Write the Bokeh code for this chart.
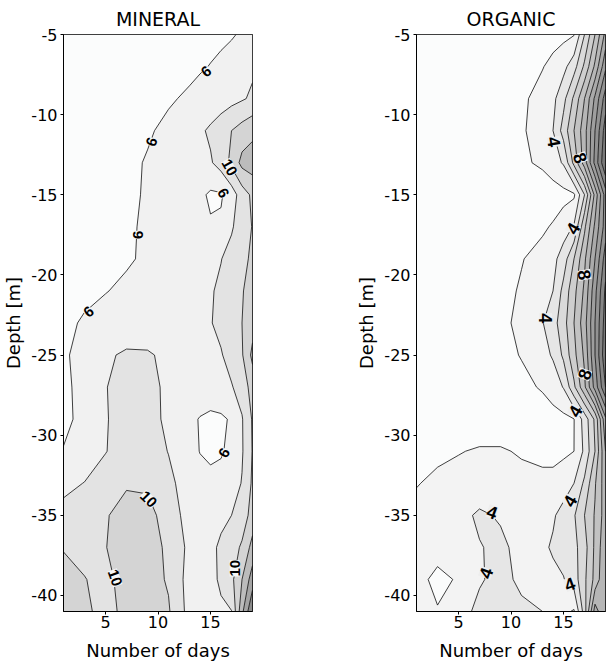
import numpy as np
from bokeh.plotting import figure
from bokeh.layouts import row
from bokeh.models import Range1d, FixedTicker, ColumnDataSource, PrintfTickFormatter
from bokeh.embed import file_html
from bokeh.resources import INLINE

# ---------------- data ----------------
days = [1, 3, 5, 7, 9, 11, 13, 14, 15, 16, 17, 18, 19]
depths = [-5, -7, -9, -11, -13, -15, -17, -19, -21, -23, -25, -27, -29,
          -31, -33, -35, -37, -39, -41]

mineral = [
    [5.0, 5.0, 5.0, 5.1, 5.2, 5.3, 5.4, 5.5, 5.6, 5.7, 5.85, 6.2, 6.8],
    [5.0, 5.0, 5.1, 5.2, 5.3, 5.5, 5.7, 5.85, 6.05, 6.3, 6.7, 7.2, 7.7],
    [5.1, 5.1, 5.2, 5.4, 5.6, 5.85, 6.2, 6.5, 6.8, 7.1, 7.4, 7.8, 8.3],
    [5.2, 5.3, 5.4, 5.6, 5.85, 6.3, 7.2, 7.7, 8.3, 9.0, 10.0, 10.8, 11.5],
    [5.3, 5.4, 5.5, 5.7, 6.1, 6.6, 7.0, 7.4, 7.8, 8.8, 10.5, 12.6, 13.0],
    [5.4, 5.5, 5.6, 5.8, 6.1, 6.4, 6.5, 6.4, 5.7, 5.8, 7.0, 9.0, 10.4],
    [5.4, 5.5, 5.65, 5.85, 6.15, 6.5, 6.7, 6.6, 6.2, 6.3, 7.8, 8.9, 10.1],
    [5.3, 5.45, 5.6, 5.85, 6.2, 6.6, 6.9, 7.1, 7.5, 7.95, 8.6, 9.4, 10.4],
    [5.3, 5.6, 5.95, 6.25, 6.55, 6.9, 7.3, 7.6, 7.85, 8.3, 9.0, 9.9, 10.6],
    [5.6, 6.2, 6.5, 6.7, 6.9, 7.1, 7.4, 7.6, 7.9, 8.5, 9.2, 10.0, 11.2],
    [5.8, 6.5, 7.7, 8.3, 8.2, 7.6, 7.4, 7.6, 7.8, 7.85, 8.8, 9.8, 12.5],
    [5.6, 6.6, 7.95, 8.5, 8.6, 7.6, 7.3, 7.1, 7.1, 7.4, 7.85, 8.9, 10.8],
    [5.5, 6.6, 7.9, 8.6, 8.7, 7.6, 6.4, 5.9, 5.6, 5.7, 6.2, 7.85, 10.2],
    [6.1, 6.9, 7.95, 8.6, 8.8, 7.95, 6.6, 5.95, 5.7, 5.85, 6.4, 7.8, 10.1],
    [7.5, 8.05, 8.6, 9.8, 9.7, 8.4, 7.2, 6.6, 6.4, 6.5, 7.1, 8.1, 10.3],
    [8.6, 9.2, 9.85, 10.7, 10.6, 9.2, 7.1, 7.2, 7.3, 7.6, 8.0, 8.9, 10.8],
    [9.9, 9.6, 9.95, 10.8, 10.7, 9.7, 7.5, 7.1, 7.6, 8.3, 9.1, 10.3, 12.7],
    [10.6, 10.05, 9.6, 10.6, 10.8, 9.8, 7.2, 7.0, 7.3, 8.4, 9.5, 12.0, 15.0],
    [11.2, 10.3, 9.5, 10.4, 11.4, 10.2, 7.3, 6.9, 7.2, 7.6, 7.95, 13.5, 18.0],
]

organic = [
    [2.0, 2.0, 2.0, 2.1, 2.2, 2.3, 2.5, 2.6, 2.75, 2.95, 5.0, 7.0, 9.3],
    [2.0, 2.0, 2.1, 2.2, 2.4, 2.6, 2.95, 3.3, 3.7, 4.6, 6.2, 8.2, 10.8],
    [2.0, 2.1, 2.2, 2.3, 2.5, 2.8, 3.4, 3.75, 4.7, 6.2, 8.0, 10.2, 12.5],
    [2.0, 2.1, 2.2, 2.4, 2.6, 2.85, 3.55, 4.0, 5.4, 7.0, 8.6, 11.0, 13.5],
    [2.0, 2.1, 2.2, 2.3, 2.5, 2.8, 3.2, 3.6, 4.1, 6.3, 8.5, 11.3, 14.0],
    [2.0, 2.0, 2.1, 2.2, 2.3, 2.3, 2.3, 2.5, 2.7, 2.85, 5.0, 8.3, 11.5],
    [2.0, 2.0, 2.1, 2.2, 2.3, 2.5, 2.85, 3.1, 3.5, 4.1, 6.8, 9.2, 11.5],
    [2.0, 2.1, 2.2, 2.3, 2.6, 2.95, 3.35, 3.7, 4.5, 6.0, 7.8, 10.0, 12.5],
    [2.0, 2.1, 2.2, 2.4, 2.7, 3.1, 3.6, 4.0, 5.3, 6.7, 8.2, 10.7, 13.2],
    [2.0, 2.1, 2.3, 2.5, 2.75, 3.25, 3.95, 4.6, 5.6, 7.0, 8.6, 11.0, 13.5],
    [2.0, 2.1, 2.3, 2.5, 2.7, 3.05, 3.7, 4.1, 5.2, 6.7, 8.2, 11.0, 13.8],
    [2.0, 2.1, 2.3, 2.5, 2.6, 2.75, 3.1, 3.5, 4.05, 5.8, 7.8, 10.4, 13.0],
    [2.0, 2.1, 2.3, 2.4, 2.4, 2.4, 2.5, 2.6, 2.75, 2.98, 4.4, 6.2, 9.8],
    [2.5, 2.8, 2.95, 3.1, 3.1, 2.9, 2.7, 2.7, 2.8, 3.0, 4.2, 6.0, 9.0],
    [2.95, 3.2, 3.35, 3.4, 3.4, 3.3, 3.3, 3.3, 3.6, 4.0, 5.2, 6.9, 8.6],
    [3.3, 3.5, 3.7, 4.15, 3.9, 3.6, 3.7, 3.9, 4.3, 4.9, 6.0, 7.1, 8.5],
    [3.5, 3.6, 3.6, 3.95, 4.2, 3.7, 3.85, 4.1, 4.4, 4.7, 5.6, 7.2, 8.8],
    [3.5, 2.6, 3.15, 3.9, 4.3, 3.8, 3.7, 3.8, 3.95, 4.5, 5.8, 7.3, 9.0],
    [3.3, 3.1, 3.6, 4.25, 4.3, 4.2, 4.0, 3.6, 3.2, 2.9, 5.5, 9.5, 8.0],
]

mineral_levels = [0, 6, 8, 10, 12, 14, 16, 18, 20]
organic_levels = [0, 3, 4, 5, 6, 7, 8, 9, 10, 11, 12, 13, 14, 15]

x_ticks = [5, 10, 15]
y_ticks = [-5, -10, -15, -20, -25, -30, -35, -40]

# contour labels (text, day, depth, rotation in degrees)
mineral_lab_text = ["6", "6", "6", "6", "6", "10", "6", "10", "10", "10"]
mineral_lab_x = [14.6, 9.4, 8.1, 3.4, 16.2, 16.8, 16.3, 9.1, 5.9, 17.3]
mineral_lab_y = [-7.3, -11.7, -17.5, -22.3, -14.9, -13.3, -31.1, -34.0, -38.9, -38.3]
mineral_lab_ang = [40, 70, 90, 40, -60, -60, 60, -45, -70, 90]

organic_lab_text = ["4", "8", "4", "8", "4", "8", "4", "4", "4", "4", "4"]
organic_lab_x = [14.1, 16.6, 15.9, 17.0, 13.3, 17.0, 16.1, 15.6, 8.2, 7.6, 15.6]
organic_lab_y = [-11.7, -12.7, -17.1, -20.0, -22.7, -26.2, -28.5, -34.1, -34.8, -38.6, -39.3]
organic_lab_ang = [-80, -70, 60, -80, -90, 70, 60, 60, -20, 70, 20]

# ---------------- styles ----------------
mineral_colors = ["#fbfcfc", "#f1f1f1", "#e3e3e3", "#d4d4d4", "#bcbcbc",
                  "#a4a4a4", "#8c8c8c", "#747474"]
organic_colors = ["#fbfcfc", "#f3f3f3", "#e6e6e6", "#dadada", "#cecece",
                  "#c2c2c2", "#b6b6b6", "#aaaaaa", "#9e9e9e", "#929292",
                  "#868686", "#7a7a7a", "#6e6e6e"]

FONT = "DejaVu Sans"


def make_panel(title, z, levels, colors, lx, ly, lt, la, lab_size, lab_bg,
               border_left, border_right):
    p = figure(frame_width=189, frame_height=577,
               x_range=Range1d(1, 19), y_range=Range1d(-41, -5),
               output_backend="svg", toolbar_location=None,
               min_border_left=border_left, min_border_right=border_right,
               min_border_top=0, min_border_bottom=53,
               background_fill_color="white", border_fill_color="white")
    p.title.text = title
    p.title.align = "center"
    p.title.text_font = FONT
    p.title.text_font_size = "19px"
    p.title.text_font_style = "normal"
    p.title.text_color = "black"
    p.title.standoff = 10
    p.grid.visible = False
    p.outline_line_color = "black"
    p.outline_line_width = 1

    p.contour(days, depths, np.array(z), levels,
              fill_color=colors, line_color="black", line_width=0.75)

    src = ColumnDataSource(dict(x=lx, y=ly, text=lt, angle=la))
    p.text(x="x", y="y", text="text", angle="angle", angle_units="deg",
           source=src, text_align="center", text_baseline="middle",
           text_font={"value": "Liberation Sans"}, text_font_style="bold",
           text_font_size=lab_size, text_color="black",
           background_fill_color=lab_bg, background_fill_alpha=1.0)

    for ax in (p.xaxis[0], p.yaxis[0]):
        ax.axis_line_color = "black"
        ax.major_tick_line_color = "black"
        ax.major_tick_in = 0
        ax.major_tick_out = 3
        ax.minor_tick_line_color = None
        ax.major_label_text_font = FONT
        ax.major_label_text_font_size = "16px"
        ax.major_label_text_color = "black"
        ax.axis_label_text_font = FONT
        ax.axis_label_text_font_size = "18px"
        ax.axis_label_text_font_style = "normal"
        ax.axis_label_text_color = "black"
        ax.formatter = PrintfTickFormatter(format="%d")
    p.xaxis.major_label_standoff = 1
    p.xaxis.axis_label_standoff = 9
    p.yaxis.major_label_standoff = 3
    p.yaxis.axis_label_standoff = 4
    p.xaxis.ticker = FixedTicker(ticks=x_ticks)
    p.yaxis.ticker = FixedTicker(ticks=y_ticks)
    p.xaxis.axis_label = "Number of days"
    p.yaxis.axis_label = "Depth [m]"
    return p


p1 = make_panel("MINERAL", mineral, mineral_levels, mineral_colors,
                mineral_lab_x, mineral_lab_y, mineral_lab_text, mineral_lab_ang,
                "15px", "#f6f7f7", 62, 101)
p2 = make_panel("ORGANIC", organic, organic_levels, organic_colors,
                organic_lab_x, organic_lab_y, organic_lab_text, organic_lab_ang,
                "18px", "#eeeeee", 62, 3)

layout = row(p1, p2)
open("out.html", "w").write(file_html(layout, INLINE))
